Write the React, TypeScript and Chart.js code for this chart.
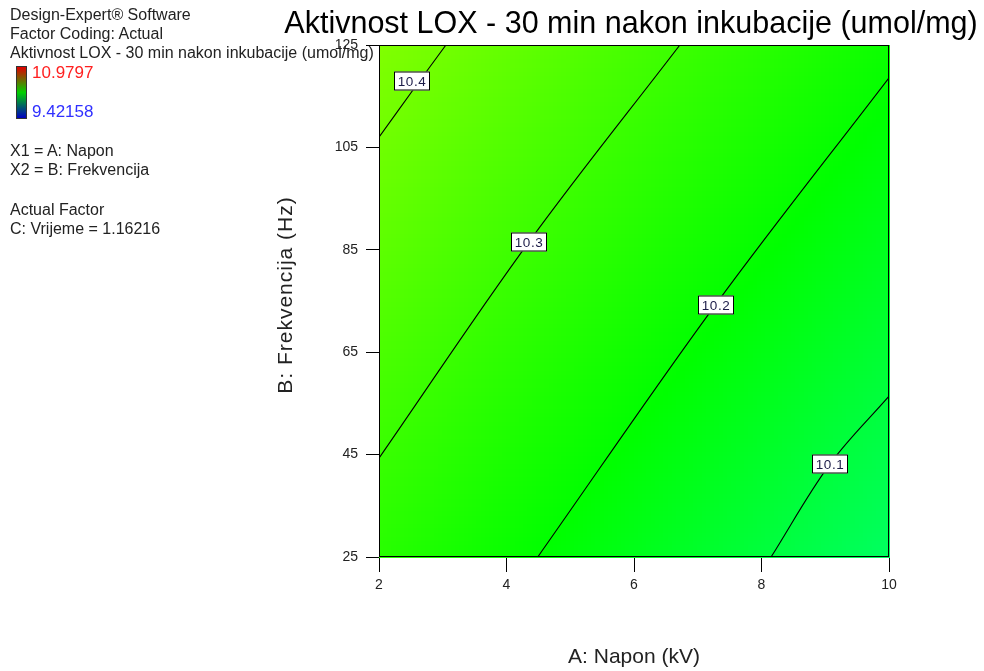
import React, { useEffect, useRef } from "react";
import { Chart, registerables } from "chart.js";

Chart.register(...registerables);

// ---- data ----
const xTicks = [2, 4, 6, 8, 10];
const yTicks = [25, 45, 65, 85, 105, 125];
const contourLevels = ["10.4", "10.3", "10.2", "10.1"];
const contour104X = [2, 2.55, 3.05];
const contour104Y = [107, 116.5, 125];
const contour103X = [2, 4.35, 6.72];
const contour103Y = [44.3, 86.5, 125];
const contour102X = [4.49, 7.28, 10];
const contour102Y = [25, 74.3, 118.6];
const contour101X = [8.15, 9.07, 10];
const contour101Y = [25, 43.1, 56.4];
const labelX = [2.52, 4.35, 7.28, 9.07];
const labelY = [118, 86.5, 74.3, 43.1];
// response surface values at the corners (rows: y=25, y=125; cols: x=2, x=10)
const surfaceX = [2, 10];
const surfaceY = [25, 125];
const surfaceValues = [
  [10.27, 10.05],
  [10.43, 10.22],
];
const colourStopValues = [10.0, 10.2, 10.45];
const colourStopRGB = [
  [0, 255, 128],
  [0, 255, 0],
  [140, 255, 0],
];

const FONT = "'Liberation Sans', Arial, sans-serif";

function colourFor(v: number): string {
  const s = colourStopValues;
  let i = 0;
  if (v <= s[0]) i = 0;
  else if (v >= s[s.length - 1]) i = s.length - 2;
  else while (i < s.length - 2 && v > s[i + 1]) i++;
  let t = (v - s[i]) / (s[i + 1] - s[i]);
  t = Math.max(0, Math.min(1, t));
  const a = colourStopRGB[i];
  const b = colourStopRGB[i + 1];
  const c = a.map((av, k) => Math.round(av + (b[k] - av) * t));
  return `rgb(${c[0]},${c[1]},${c[2]})`;
}

function surfaceAt(x: number, y: number): number {
  const tx = (x - surfaceX[0]) / (surfaceX[1] - surfaceX[0]);
  const ty = (y - surfaceY[0]) / (surfaceY[1] - surfaceY[0]);
  const bottom = surfaceValues[0][0] * (1 - tx) + surfaceValues[0][1] * tx;
  const top = surfaceValues[1][0] * (1 - tx) + surfaceValues[1][1] * tx;
  return bottom * (1 - ty) + top * ty;
}

const surfacePlugin = {
  id: "surface",
  beforeDatasetsDraw(chart: any) {
    const { ctx, scales } = chart;
    const xs = scales.x;
    const ys = scales.y;
    const n = 120;
    ctx.save();
    for (let i = 0; i < n; i++) {
      for (let j = 0; j < n; j++) {
        const x0 = surfaceX[0] + ((surfaceX[1] - surfaceX[0]) * i) / n;
        const x1 = surfaceX[0] + ((surfaceX[1] - surfaceX[0]) * (i + 1)) / n;
        const y0 = surfaceY[0] + ((surfaceY[1] - surfaceY[0]) * j) / n;
        const y1 = surfaceY[0] + ((surfaceY[1] - surfaceY[0]) * (j + 1)) / n;
        const v = surfaceAt((x0 + x1) / 2, (y0 + y1) / 2);
        const px0 = xs.getPixelForValue(x0);
        const px1 = xs.getPixelForValue(x1);
        const py0 = ys.getPixelForValue(y1);
        const py1 = ys.getPixelForValue(y0);
        ctx.fillStyle = colourFor(v);
        ctx.fillRect(Math.floor(px0), Math.floor(py0), Math.ceil(px1 - px0) + 1, Math.ceil(py1 - py0) + 1);
      }
    }
    ctx.restore();
  },
  afterDatasetsDraw(chart: any) {
    const { ctx, chartArea, scales } = chart;
    ctx.save();
    // frame
    ctx.strokeStyle = "#000";
    ctx.lineWidth = 1;
    ctx.strokeRect(
      Math.round(chartArea.left) + 0.5,
      Math.round(chartArea.top) + 0.5,
      Math.round(chartArea.right - chartArea.left) - 1,
      Math.round(chartArea.bottom - chartArea.top) - 1
    );
    // contour labels
    ctx.font = `13.5px ${FONT}`;
    ctx.textAlign = "center";
    ctx.textBaseline = "middle";
    contourLevels.forEach((lab, i) => {
      const px = Math.round(scales.x.getPixelForValue(labelX[i]));
      const py = Math.round(scales.y.getPixelForValue(labelY[i]));
      const w = 36;
      const h = 19;
      ctx.fillStyle = "#fff";
      ctx.fillRect(px - w / 2, py - h / 2, w, h);
      ctx.strokeStyle = "#000";
      ctx.strokeRect(px - w / 2 + 0.5, py - h / 2 + 0.5, w - 1, h - 1);
      ctx.fillStyle = "#1c1c48";
      (ctx as any).letterSpacing = "0.5px";
      ctx.fillText(lab, px, py + 1);
      (ctx as any).letterSpacing = "0px";
    });
    ctx.restore();
  },
  afterDraw(chart: any) {
    const { ctx, chartArea } = chart;
    ctx.save();
    ctx.fillStyle = "#000";
    ctx.textAlign = "center";
    ctx.textBaseline = "alphabetic";
    ctx.font = `30.5px ${FONT}`;
    ctx.fillText("Aktivnost LOX - 30 min nakon inkubacije (umol/mg)", 631, 33);
    ctx.fillStyle = "#222";
    ctx.font = `21px ${FONT}`;
    ctx.fillText("A: Napon (kV)", (chartArea.left + chartArea.right) / 2, 663);
    ctx.translate(292, 295);
    ctx.rotate(-Math.PI / 2);
    (ctx as any).letterSpacing = "1px";
    ctx.fillText("B: Frekvencija (Hz)", 0, 0);
    ctx.restore();
  },
};

function makeData(xs: number[], ys: number[]) {
  return xs.map((x, i) => ({ x, y: ys[i] }));
}

export default function App() {
  const ref = useRef<HTMLCanvasElement | null>(null);
  useEffect(() => {
    if (!ref.current) return;
    const lines = [
      makeData(contour104X, contour104Y),
      makeData(contour103X, contour103Y),
      makeData(contour102X, contour102Y),
      makeData(contour101X, contour101Y),
    ];
    const chart = new Chart(ref.current, {
      type: "scatter",
      data: {
        datasets: lines.map((d, i) => ({
          label: contourLevels[i],
          data: d,
          showLine: true,
          borderColor: "#000",
          borderWidth: 1.1,
          pointRadius: 0,
          tension: 0.35,
        })),
      },
      options: {
        animation: false,
        responsive: false,
        devicePixelRatio: 1,
        layout: { padding: { left: 275, right: 95, top: 45, bottom: 4 } },
        plugins: {
          legend: { display: false },
          tooltip: { enabled: false },
          title: { display: false },
        },
        scales: {
          x: {
            type: "linear",
            min: 2,
            max: 10,
            afterBuildTicks: (s: any) => {
              s.ticks = xTicks.map((v) => ({ value: v }));
            },
            afterFit: (s: any) => {
              s.height = 110;
            },
            ticks: { color: "#222", font: { size: 14, family: FONT }, padding: 5 },
            grid: { drawOnChartArea: false, drawTicks: true, tickLength: 15, color: "#000" },
            border: { display: true, color: "#000" },
          },
          y: {
            type: "linear",
            min: 25,
            max: 125,
            afterBuildTicks: (s: any) => {
              s.ticks = yTicks.map((v) => ({ value: v }));
            },
            afterFit: (s: any) => {
              s.width = 104;
            },
            ticks: { color: "#222", font: { size: 14, family: FONT }, padding: 8 },
            grid: { drawOnChartArea: false, drawTicks: true, tickLength: 13, color: "#000" },
            border: { display: true, color: "#000" },
          },
        },
      },
      plugins: [surfacePlugin],
    });
    return () => chart.destroy();
  }, []);

  const textStyle: React.CSSProperties = {
    position: "absolute",
    left: 10,
    fontFamily: FONT,
    fontSize: 16,
    lineHeight: "19px",
    color: "#222",
    whiteSpace: "nowrap",
  };

  return (
    <div style={{ position: "fixed", left: 0, top: 0, width: 984, height: 671, background: "#fff" }}>
      <canvas ref={ref} width={984} height={671} style={{ position: "absolute", left: 0, top: 0, width: 984, height: 671 }} />
      <div style={{ ...textStyle, top: 5 }}>Design-Expert® Software</div>
      <div style={{ ...textStyle, top: 24 }}>Factor Coding: Actual</div>
      <div style={{ ...textStyle, top: 43 }}>Aktivnost LOX - 30 min nakon inkubacije (umol/mg)</div>
      <div
        style={{
          position: "absolute",
          left: 16,
          top: 66,
          width: 9,
          height: 51,
          border: "1px solid #333",
          background: "linear-gradient(to bottom, #e00000, #00d000 50%, #0000c0)",
        }}
      />
      <div style={{ ...textStyle, left: 32, top: 63, color: "#ff2020", fontSize: 17 }}>10.9797</div>
      <div style={{ ...textStyle, left: 32, top: 102, color: "#3030ff", fontSize: 17 }}>9.42158</div>
      <div style={{ ...textStyle, top: 141 }}>X1 = A: Napon</div>
      <div style={{ ...textStyle, top: 160 }}>X2 = B: Frekvencija</div>
      <div style={{ ...textStyle, top: 200 }}>Actual Factor</div>
      <div style={{ ...textStyle, top: 219 }}>C: Vrijeme = 1.16216</div>
    </div>
  );
}
